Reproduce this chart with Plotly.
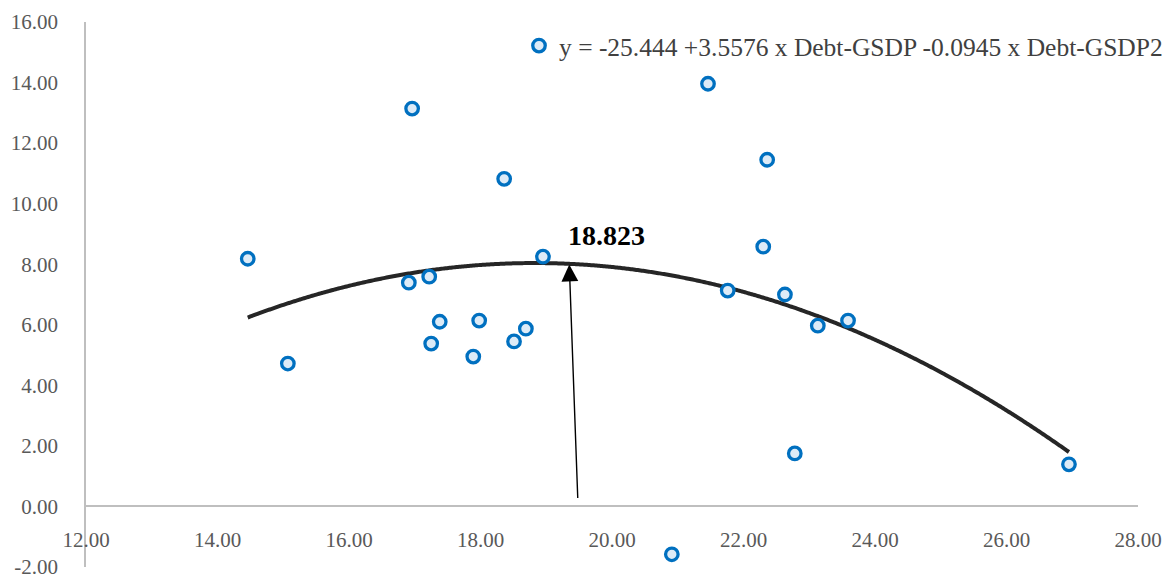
import numpy as np
import plotly.graph_objects as go

# Debt-GSDP ratio (x) against growth (y) for each state
debt_gsdp = [14.46, 15.07, 16.96, 16.91, 17.22, 17.25, 17.38, 17.89, 17.98, 18.36,
             18.51, 18.69, 18.95, 21.46, 20.91, 21.76, 22.30, 22.36, 22.63, 22.78,
             23.13, 23.59, 26.95]
growth = [8.18, 4.72, 13.14, 7.39, 7.59, 5.38, 6.10, 4.95, 6.14, 10.82,
          5.45, 5.87, 8.25, 13.96, -1.58, 7.13, 8.58, 11.45, 7.00, 1.75,
          5.97, 6.14, 1.39]

# Quadratic fit coefficients: y = b0 + b1*x + b2*x^2
b0, b1, b2 = -25.444, 3.5576, -0.0945
turning_point = 18.823
series_name = "y = -25.444 +3.5576 x Debt-GSDP -0.0945 x Debt-GSDP2"

x_ticks = [12, 14, 16, 18, 20, 22, 24, 26, 28]
y_ticks = [-2, 0, 2, 4, 6, 8, 10, 12, 14, 16]

# Arrow pointing at the peak of the fitted curve
arrow_head = (19.35, 7.99)
arrow_tail = (19.48, 0.23)
label_pos = (19.92, 8.94)

fit_x = np.linspace(min(debt_gsdp), max(debt_gsdp), 300)
fit_y = b0 + b1 * fit_x + b2 * fit_x ** 2

serif = "Liberation Serif"

fig = go.Figure()
fig.add_trace(go.Scatter(
    x=fit_x, y=fit_y, mode="lines",
    line=dict(color="#262626", width=4, shape="spline"),
    showlegend=False, hoverinfo="skip",
))
fig.add_trace(go.Scatter(
    x=debt_gsdp, y=growth, mode="markers", name=series_name,
    marker=dict(symbol="circle", size=12.5, color="#DDEBF7",
                line=dict(color="#0070C0", width=3.3)),
))

fig.add_annotation(
    x=arrow_head[0], y=arrow_head[1], ax=arrow_tail[0], ay=arrow_tail[1],
    xref="x", yref="y", axref="x", ayref="y",
    text="", showarrow=True, arrowhead=2, arrowsize=2.4, arrowwidth=1.4,
    arrowcolor="#000000",
)
fig.add_annotation(
    x=label_pos[0], y=label_pos[1], xref="x", yref="y",
    text=f"<b>{turning_point:.3f}</b>", showarrow=False,
    font=dict(family=serif, size=28, color="#000000"),
)

fig.update_layout(
    width=1167, height=576,
    margin=dict(l=86, r=29, t=22, b=9, autoexpand=False),
    paper_bgcolor="white", plot_bgcolor="white",
    font=dict(family=serif, color="#595959"),
    showlegend=True,
    legend=dict(
        x=(519 - 86) / 1052, xanchor="left",
        y=(567 - 46) / 545, yanchor="middle",
        bgcolor="rgba(0,0,0,0)",
        font=dict(family=serif, size=25.5, color="#404040"),
    ),
    xaxis=dict(
        range=[12, 28], tickvals=x_ticks,
        ticktext=[f"{v:.2f}" for v in x_ticks],
        showgrid=False, zeroline=False,
        showline=True, linecolor="#BFBFBF", linewidth=1.5,
        anchor="free", position=2 / 18, automargin=False,
        ticks="", ticklabelstandoff=15,
        tickfont=dict(family=serif, size=21, color="#595959"),
    ),
    yaxis=dict(
        range=[-2, 16], tickvals=y_ticks,
        ticktext=[f"{v:.2f}" for v in y_ticks],
        showgrid=False, zeroline=False,
        showline=True, linecolor="#BFBFBF", linewidth=1.5, automargin=False,
        ticks="", ticklabelstandoff=22, ticklabeloverflow="allow",
        tickfont=dict(family=serif, size=21, color="#595959"),
    ),
)

fig.write_html("out.html")
